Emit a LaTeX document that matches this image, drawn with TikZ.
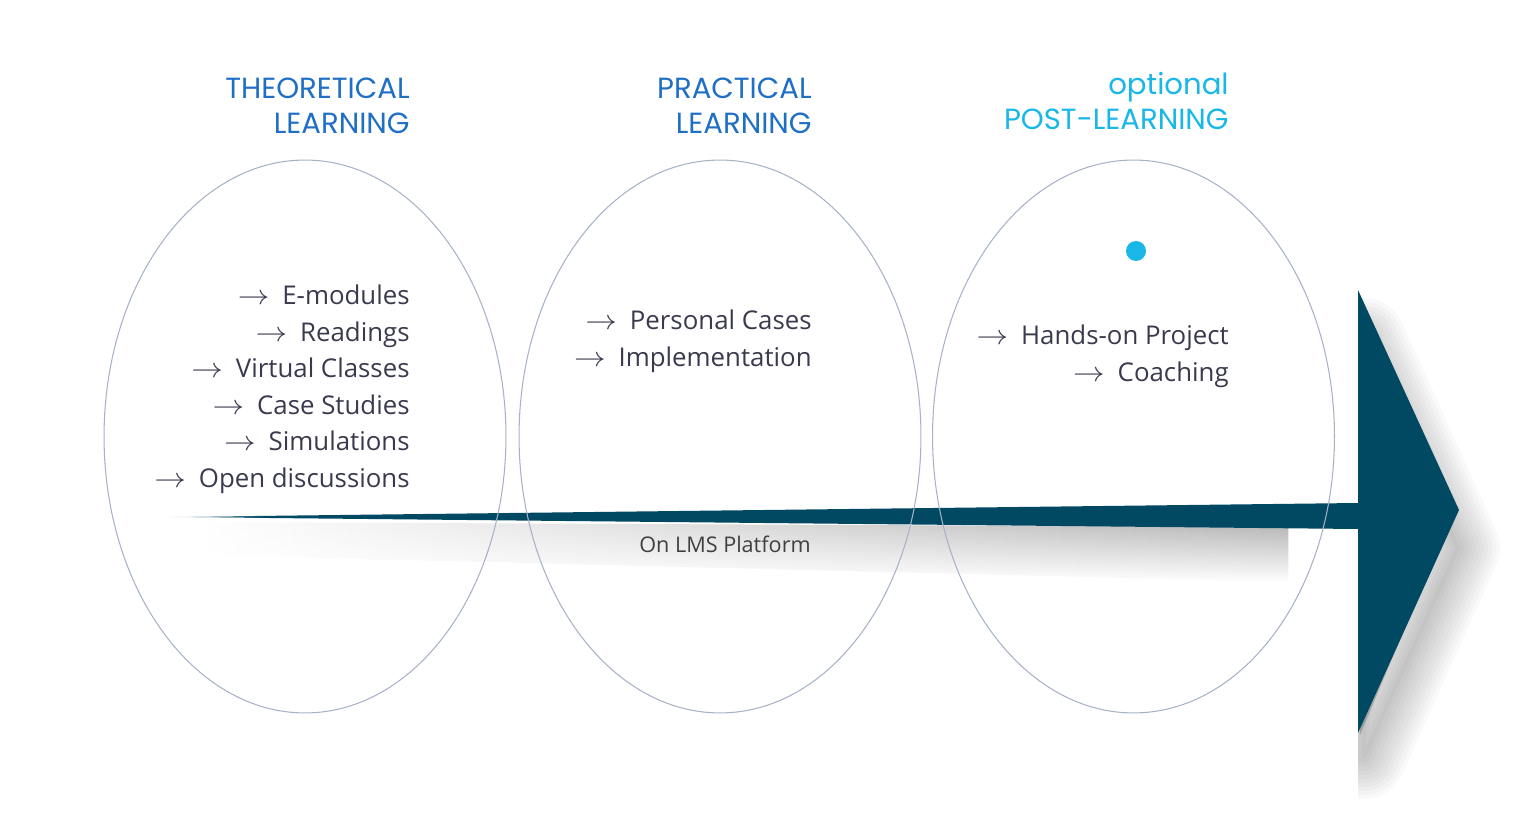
\documentclass[tikz,border=0pt]{standalone}
\usepackage{fontspec}
\setmainfont{Open Sans}
\newfontfamily\headfont{Poppins}
\usetikzlibrary{fadings,shapes.geometric}

\definecolor{arrowcol}{RGB}{1,72,99}
\definecolor{shaftlight}{RGB}{205,218,226}
\definecolor{headblue}{RGB}{31,111,196}
\definecolor{headcyan}{RGB}{25,183,232}
\definecolor{ringcol}{RGB}{168,178,198}
\definecolor{itemcol}{RGB}{58,58,78}
\definecolor{lmscol}{RGB}{64,64,64}

\pgfdeclarehorizontalshading{shaftfade}{100bp}{color(0bp)=(shaftlight); color(25bp)=(shaftlight); color(29bp)=(arrowcol); color(100bp)=(arrowcol)}

\newcommand{\pt}{\scalebox{1.25}[1.1]{$\rightarrow$}\hspace{0.5em}}

\tikzset{
  ring/.style={ellipse, draw=ringcol, line width=0.6pt, minimum width=8.04cm, minimum height=11.06cm, inner sep=0pt},
  head/.style={anchor=base east, inner sep=0pt, font=\headfont\fontsize{16.6}{18}\selectfont},
  item/.style={anchor=base east, inner sep=0pt, text=itemcol, font=\fontsize{14.7}{17}\selectfont},
  dot/.style={circle, fill=headcyan, minimum size=0.4cm, inner sep=0pt},
}

\begin{document}
\begin{tikzpicture}[x=0.02cm, y=-0.02cm]
\useasboundingbox (0,0) rectangle (1534,837);
%% schatten
\shade[left color=white, right color=black!30, path fading=south] (200,522) -- (1290,527) -- (1290,582) -- (200,555) -- cycle;
\begin{scope}
\clip (1358,280) rectangle (1534,837);
\fill[black, opacity=0.2] (1360,360) -- (1440,545) -- (1360,735) -- cycle;
\foreach \w in {84,76,...,4}
  \draw[black, opacity=0.022, line width=\w*0.567pt, line join=round] (1364,340) -- (1458,548) -- (1364,757) -- cycle;
\end{scope}
%% pfeil
\shade[shading=shaftfade] (170,517) -- (1358,503) -- (1367,503) -- (1367,528) -- (1358,529) -- cycle;
\fill[arrowcol] (1358,290) -- (1459,510) -- (1358,733) -- cycle;
%% ellipsen
\node[ring] (theoring) at (305,436.5) {};
\node[ring] (pracring) at (720,436.5) {};
\node[ring] (postring) at (1133.5,436.5) {};
%% titel
\node[head, text=headblue] (theoA) at (410,99) {THEORETICAL};
\node[head, text=headblue] (theoB) at (410,134) {LEARNING};
\node[head, text=headblue] (pracA) at (812,99) {PRACTICAL};
\node[head, text=headblue] (pracB) at (812,134) {LEARNING};
\node[head, text=headcyan] (postA) at (1229,95) {optional};
\node[head, text=headcyan] (postB) at (1229,130) {POST-LEARNING};
\node[dot] (mark) at (1136,251) {};
%% punkte
\foreach \txt [count=\i] in {E-modules, Readings, Virtual Classes, Case Studies, Simulations, Open discussions}
  \node[item] (theo\i) at (410,{305+36.4*(\i-1)}) {\pt\txt};
\foreach \txt [count=\i] in {Personal Cases, Implementation}
  \node[item] (prac\i) at (812,{330+36.4*(\i-1)}) {\pt\txt};
\foreach \txt [count=\i] in {Hands-on Project, Coaching}
  \node[item] (post\i) at (1229,{345+36.4*(\i-1)}) {\pt\txt};
\node[anchor=base, inner sep=0pt, text=lmscol, font=\fontsize{12.3}{14}\selectfont] (lms) at (725,552) {On LMS Platform};
\end{tikzpicture}
\end{document}
